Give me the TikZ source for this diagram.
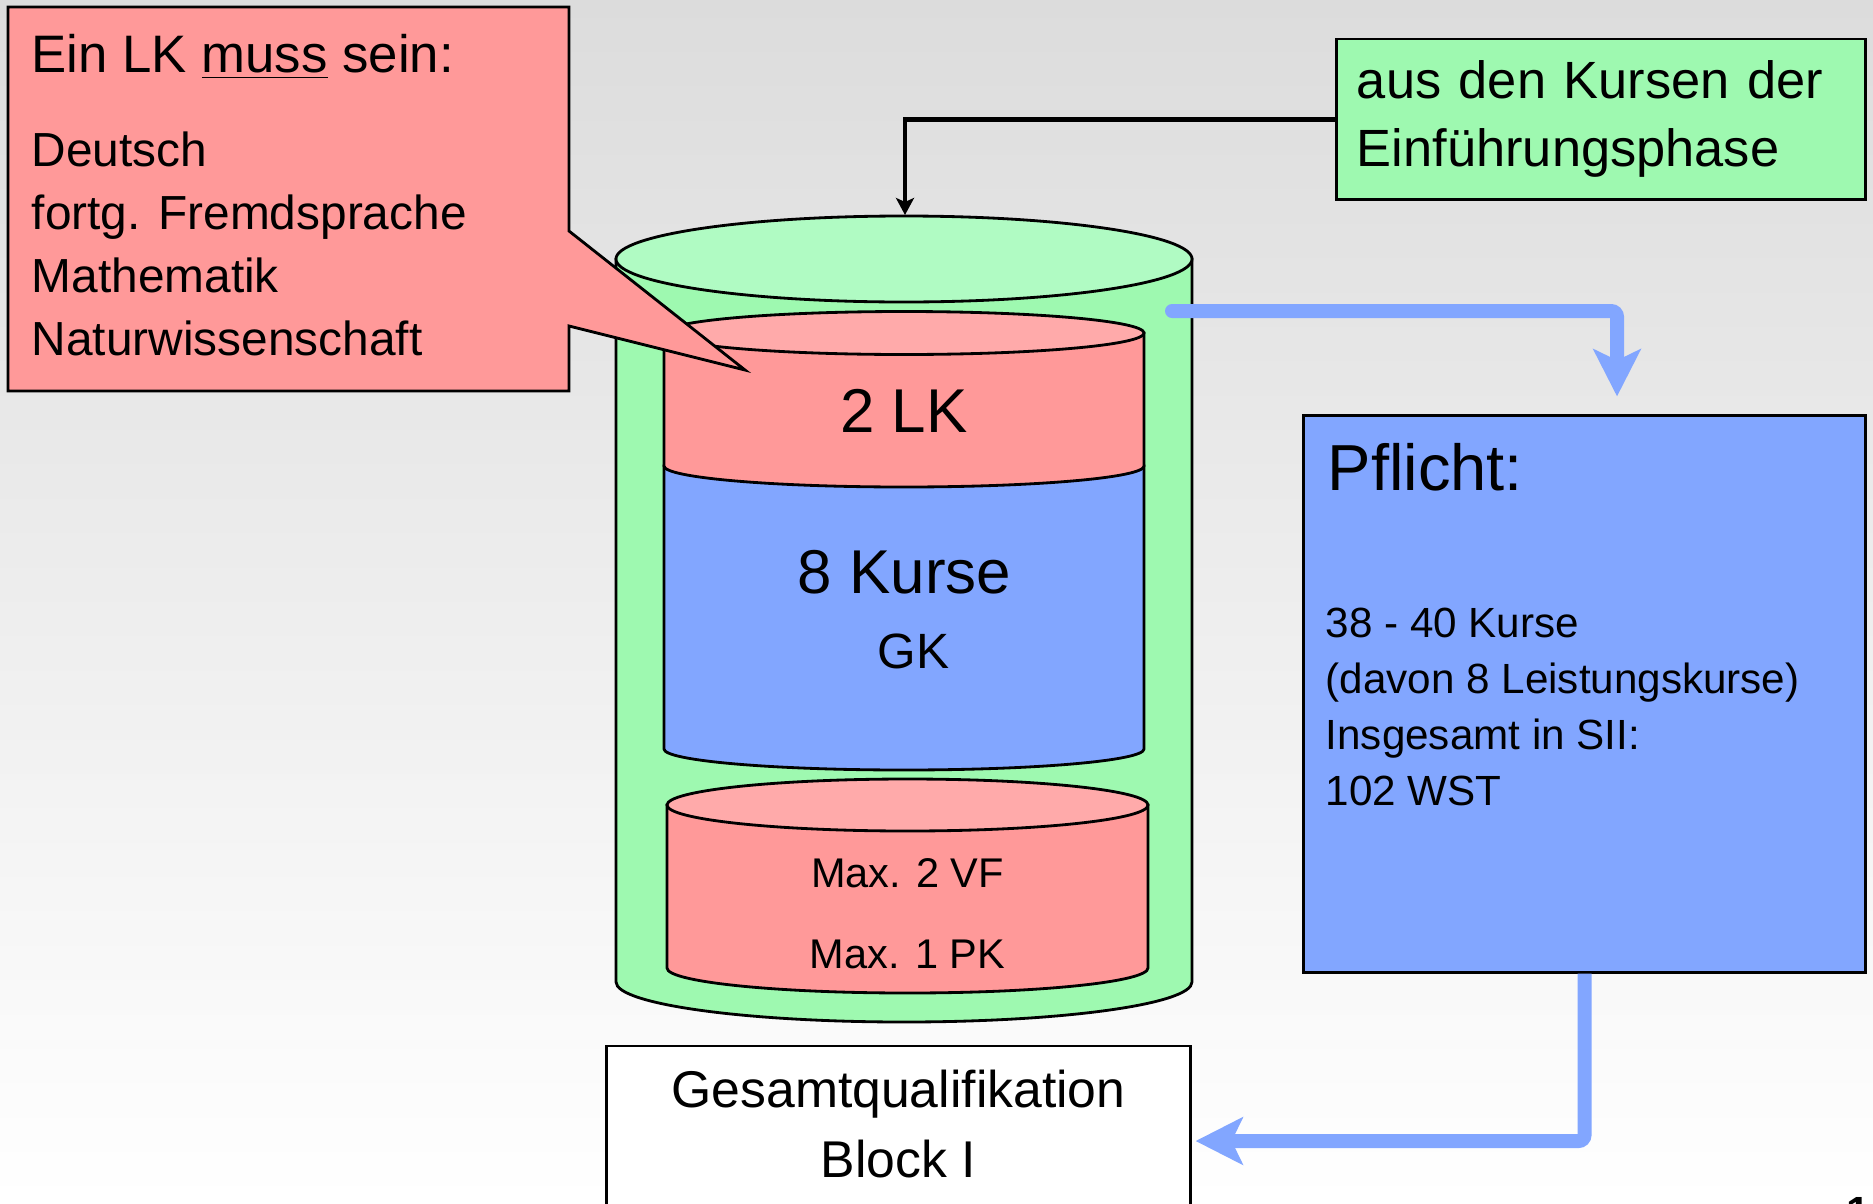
\documentclass[tikz,border=0pt]{standalone}
\usepackage{fontspec}
\setmainfont{Liberation Sans}
\usetikzlibrary{arrows.meta}
\definecolor{lkrot}{HTML}{FF9999}
\definecolor{lkrothell}{HTML}{FFAAAA}
\definecolor{gruen}{HTML}{9EF9B0}
\definecolor{gruenhell}{HTML}{B0FBC3}
\definecolor{blau}{HTML}{82A6FF}
\definecolor{hgoben}{HTML}{DCDCDC}
\begin{document}
\begin{tikzpicture}[x=0.01cm, y=-0.01cm]
 \tikzset{outline/.style={draw=black, line width=0.8pt},
   blaupfeil/.style={draw=blau, line width=0.14cm, rounded corners=0.06cm, -{Stealth[length=0.47cm, width=0.47cm, inset=0.11cm]}},
   txt/.style={inner sep=0pt, anchor=base}}
  \useasboundingbox (0,0) rectangle (1873,1203);
  \clip (0,0) rectangle (1873,1203);
  \shade[top color=hgoben, bottom color=white] (0,0) rectangle (1873,1203);
  \filldraw[outline, fill=gruen] (616,259) -- (616,982) arc[start angle=180, end angle=0, x radius=288, y radius=40] -- (1192,259) -- cycle;
  \filldraw[outline, fill=gruenhell] (904,259) ellipse [x radius=288, y radius=43];
  \filldraw[outline, fill=blau] (664,466) -- (664,749) arc[start angle=180, end angle=0, x radius=240, y radius=21] -- (1144,466) -- cycle;
  \filldraw[outline, fill=lkrot] (664,333) -- (664,466) arc[start angle=180, end angle=0, x radius=240, y radius=21] -- (1144,333) -- cycle;
  \filldraw[outline, fill=lkrothell] (904,333) ellipse [x radius=240, y radius=21.5];
  \filldraw[outline, fill=lkrot] (667,805) -- (667,968) arc[start angle=180, end angle=0, x radius=240.5, y radius=25] -- (1148,805) -- cycle;
  \filldraw[outline, fill=lkrothell] (907.5,805) ellipse [x radius=240.5, y radius=26];
  \coordinate (gtop) at (905,215);
  \coordinate (blaustart) at (1172,311);
  \node[txt, font=\fontsize{17.6}{20}\selectfont] (lk) at (904,432) {2 LK};
  \node[txt, font=\fontsize{17.6}{20}\selectfont] (kurse) at (904.5,593) {8 Kurse};
  \node[txt, font=\fontsize{14.1}{17}\selectfont] (gk) at (913.5,668) {GK};
  \node[txt, font=\fontsize{11.8}{14}\selectfont] (vf) at (907.5,887) {Max. 2 VF};
  \node[txt, font=\fontsize{11.8}{14}\selectfont] (pk) at (907.5,968) {Max. 1 PK};
  \filldraw[outline, fill=lkrot] (8,7) -- (569,7) -- (569,231) -- (745,370) -- (569,326) -- (569,391) -- (8,391) -- cycle;
  \node[txt, anchor=base west, font=\fontsize{15}{18}\selectfont] (lkkopf) at (31,72) {Ein LK \underline{muss} sein:};
  \node[txt, anchor=base west, align=left, font=\fontsize{13.6}{17.9}\selectfont] (lkliste) at (31,355) {Deutsch\\fortg. Fremdsprache\\Mathematik\\Naturwissenschaft};
  \node[outline, fill=gruen, minimum width=5.28cm, minimum height=1.605cm, text width=4.88cm, align=left, inner sep=0pt, font=\fontsize{14.9}{19.3}\selectfont] (einf) at (1601,119.25) {aus den Kursen der\\Einführungsphase};
  \node[outline, fill=blau, minimum width=5.61cm, minimum height=5.56cm] (pflicht) at (1584.5,694) {};
  \node[txt, anchor=base west, font=\fontsize{18.5}{22}\selectfont] (pflichtkopf) at (1327,490) {Pflicht:};
  \node[txt, anchor=base west, align=left, font=\fontsize{12}{15.9}\selectfont] (pflichtliste) at (1325,805) {38 - 40 Kurse\\(davon 8 Leistungskurse)\\Insgesamt in SII:\\102 WST};
  \node[outline, fill=white, minimum width=5.83cm, minimum height=1.9cm, label={[align=center, font=\fontsize{14.7}{19.9}\selectfont, yshift=0.17cm]center:Gesamtqualifikation\\Block I}] (gesamt) at (898.5,1141) {};
  \node[font=\bfseries\fontsize{12}{14}\selectfont, anchor=north, inner sep=0pt] (seite) at (1858,1197) {1};
  \draw[line width=0.045cm, -{Stealth[length=0.17cm, width=0.18cm, inset=0.04cm]}] (einf.west) -| (gtop);
  \draw[blaupfeil, line cap=round] (blaustart) -| ([xshift=0.325cm, yshift=0.18cm]pflicht.north);
  \draw[blaupfeil] (pflicht.south) |- ([xshift=0.04cm]gesamt.east);
\end{tikzpicture}
\end{document}
